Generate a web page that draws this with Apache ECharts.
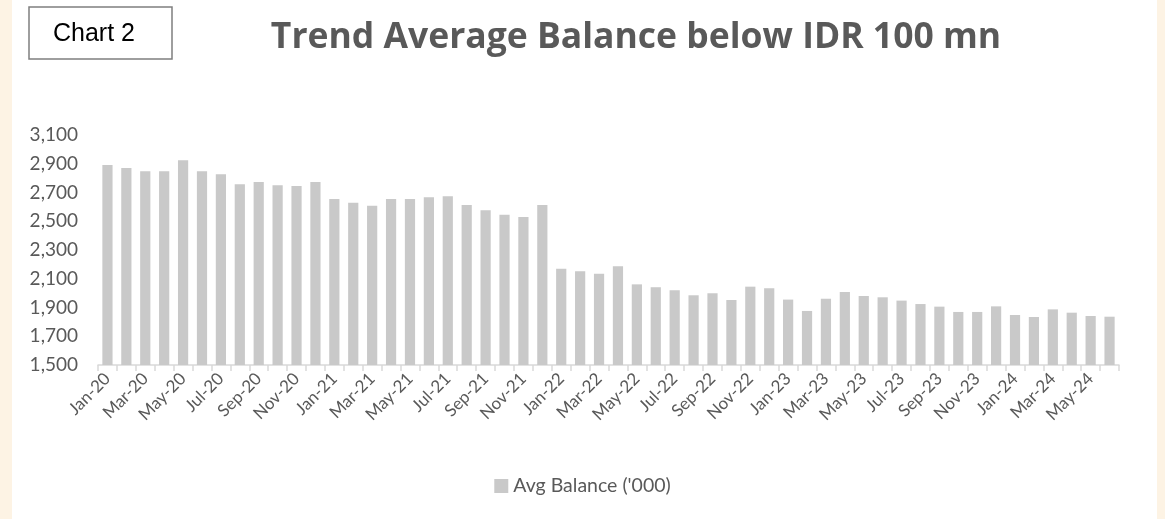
<!DOCTYPE html>
<html>
<head>
    <meta charset="UTF-8">
    <title>Trend Average Balance below IDR 100 mn</title>
    <script src="https://cdn.jsdelivr.net/npm/echarts@6/dist/echarts.min.js"></script>
    <style>
        html, body { margin: 0; padding: 0; background: #fdf3e4; }
        #panel { position: absolute; left: 12px; top: 0; width: 1145px; height: 519px; background: #fff; }
        #main { position: absolute; left: 0; top: 0; width: 1165px; height: 519px; }
    </style>
</head>
<body>
<div id="panel"></div>
<div id="main"></div>
<script type="text/javascript">
    // 月份 Jan-20 .. Jun-24
    var months = ['Jan-20', 'Feb-20', 'Mar-20', 'Apr-20', 'May-20', 'Jun-20', 'Jul-20', 'Aug-20', 'Sep-20', 'Oct-20', 'Nov-20', 'Dec-20',
        'Jan-21', 'Feb-21', 'Mar-21', 'Apr-21', 'May-21', 'Jun-21', 'Jul-21', 'Aug-21', 'Sep-21', 'Oct-21', 'Nov-21', 'Dec-21',
        'Jan-22', 'Feb-22', 'Mar-22', 'Apr-22', 'May-22', 'Jun-22', 'Jul-22', 'Aug-22', 'Sep-22', 'Oct-22', 'Nov-22', 'Dec-22',
        'Jan-23', 'Feb-23', 'Mar-23', 'Apr-23', 'May-23', 'Jun-23', 'Jul-23', 'Aug-23', 'Sep-23', 'Oct-23', 'Nov-23', 'Dec-23',
        'Jan-24', 'Feb-24', 'Mar-24', 'Apr-24', 'May-24', 'Jun-24'];

    // Avg Balance ('000)
    var avgBalance = [2891, 2871, 2848, 2848, 2924, 2848, 2827, 2757, 2773, 2750, 2745, 2773,
        2655, 2629, 2608, 2655, 2655, 2667, 2674, 2613, 2576, 2546, 2530, 2613,
        2170, 2152, 2135, 2187, 2061, 2041, 2020, 1985, 1999, 1952, 2045, 2034,
        1955, 1876, 1961, 2008, 1980, 1971, 1948, 1924, 1906, 1869, 1869, 1908,
        1848, 1834, 1887, 1864, 1841, 1836];

    var yMin = 1500, yMax = 3100, yStep = 200;

    var textColor = '#595959';
    var myChart = echarts.init(document.getElementById('main'));

    var option = {
        backgroundColor: 'transparent',
        animation: false,
        title: {
            text: 'Trend Average Balance below IDR 100 mn',
            left: 631,
            textAlign: 'center',
            top: 15,
            textStyle: {
                fontFamily: 'Open Sans',
                fontWeight: 'bold',
                fontSize: 35.5,
                color: textColor
            }
        },
        graphic: [
            {
                type: 'rect',
                shape: {x: 29, y: 7, width: 143, height: 52},
                style: {fill: '#fff', stroke: '#7f7f7f', lineWidth: 1.5}
            },
            {
                type: 'text',
                x: 53, y: 34,
                style: {
                    text: 'Chart 2',
                    fontFamily: 'Liberation Sans',
                    fontSize: 25,
                    fill: '#000',
                    verticalAlign: 'middle'
                }
            }
        ],
        legend: {
            data: ["Avg Balance ('000)"],
            left: 'center',
            top: 471,
            itemWidth: 14,
            itemHeight: 14,
            itemGap: 8,
            icon: 'rect',
            textStyle: {fontFamily: 'Lato', fontSize: 19.5, color: textColor}
        },
        grid: {left: 98, right: 46, top: 135, bottom: 154, containLabel: false},
        xAxis: {
            type: 'category',
            data: months,
            axisLine: {lineStyle: {color: '#d9d9d9', width: 1.5}},
            axisTick: {show: true, interval: 0, length: 6, lineStyle: {color: '#d9d9d9', width: 1.5}},
            axisLabel: {
                interval: 1,
                rotate: 45,
                margin: 11,
                fontFamily: 'Lato',
                fontSize: 17,
                color: textColor
            }
        },
        yAxis: {
            type: 'value',
            min: yMin,
            max: yMax,
            interval: yStep,
            axisLine: {show: false},
            axisTick: {show: false},
            splitLine: {show: false},
            axisLabel: {
                margin: 20,
                fontFamily: 'Lato',
                fontSize: 19,
                color: textColor,
                formatter: function (v) { return v.toLocaleString('en-US'); }
            }
        },
        series: [
            {
                name: "Avg Balance ('000)",
                type: 'bar',
                data: avgBalance,
                barCategoryGap: '46%',
                itemStyle: {color: '#c9c9c9'}
            }
        ]
    };
    myChart.setOption(option);
</script>
</body>
</html>
